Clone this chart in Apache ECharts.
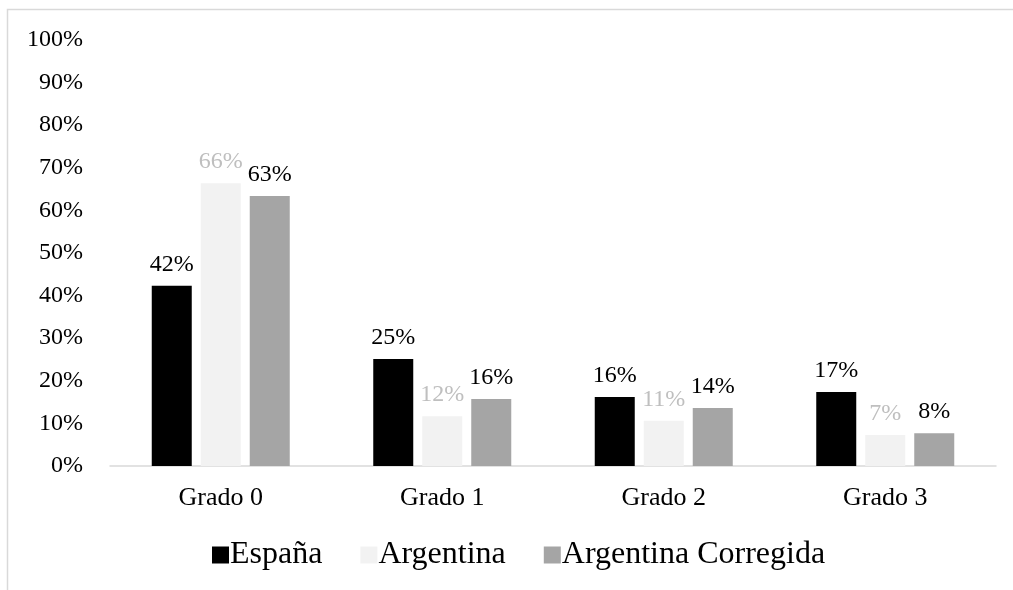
<!DOCTYPE html>
<html>
<head>
<meta charset="utf-8">
<script src="https://cdn.jsdelivr.net/npm/echarts@6/dist/echarts.min.js"></script>
<style>
html,body{margin:0;padding:0;background:#fff;}
#chart{width:1013px;height:590px;}
</style>
</head>
<body>
<div id="chart"></div>
<script>
const categories = ['Grado 0', 'Grado 1', 'Grado 2', 'Grado 3'];
const seriesNames = ['España', 'Argentina', 'Argentina Corregida'];
const espana = [42.3, 25.1, 16.2, 17.4];
const argentina = [66.4, 11.7, 10.6, 7.3];
const argentinaCorregida = [63.4, 15.7, 13.6, 7.7];
const yTicks = [0, 10, 20, 30, 40, 50, 60, 70, 80, 90, 100];

const FONT = "'Liberation Serif', 'Times New Roman', serif";
const colors = ['#000000', '#f2f2f2', '#a5a5a5'];
const labelColors = ['#000000', '#bfbfbf', '#000000'];
const datasets = [espana, argentina, argentinaCorregida];

const chart = echarts.init(document.getElementById('chart'), null, {renderer: 'canvas'});
chart.setOption({
  animation: false,
  backgroundColor: '#ffffff',
  textStyle: {fontFamily: FONT},
  graphic: [{
    type: 'rect',
    shape: {x: 7.5, y: 9.5, width: 1200, height: 800},
    style: {fill: 'none', stroke: '#d9d9d9', lineWidth: 1.5},
    silent: true, z: -1
  }],
  grid: {left: 110, right: 17, top: 40, bottom: 124, containLabel: false},
  legend: {
    data: seriesNames,
    left: 207,
    top: 534,
    itemWidth: 17,
    itemHeight: 17,
    itemGap: 38,
    icon: 'rect',
    textStyle: {fontFamily: FONT, fontSize: 32, color: '#000', padding: [0, 0, 0, -4]}
  },
  xAxis: {
    type: 'category',
    data: categories,
    axisLine: {lineStyle: {color: '#d9d9d9', width: 1.5}},
    axisTick: {show: false},
    axisLabel: {fontFamily: FONT, fontSize: 26, color: '#000', margin: 19}
  },
  yAxis: {
    type: 'value',
    min: yTicks[0],
    max: yTicks[yTicks.length - 1],
    interval: 10,
    splitLine: {show: false},
    axisLine: {show: false},
    axisTick: {show: false},
    axisLabel: {fontFamily: FONT, fontSize: 24, color: '#000', margin: 27, formatter: v => v + '%'}
  },
  series: datasets.map((d, i) => ({
    name: seriesNames[i],
    type: 'bar',
    data: d,
    barWidth: 40,
    barGap: '22.5%',
    itemStyle: {color: colors[i]},
    label: {
      show: true,
      position: 'top',
      distance: 9,
      fontFamily: FONT,
      fontSize: 24,
      color: labelColors[i],
      formatter: p => Math.round(p.value) + '%'
    }
  }))
});
</script>
</body>
</html>
